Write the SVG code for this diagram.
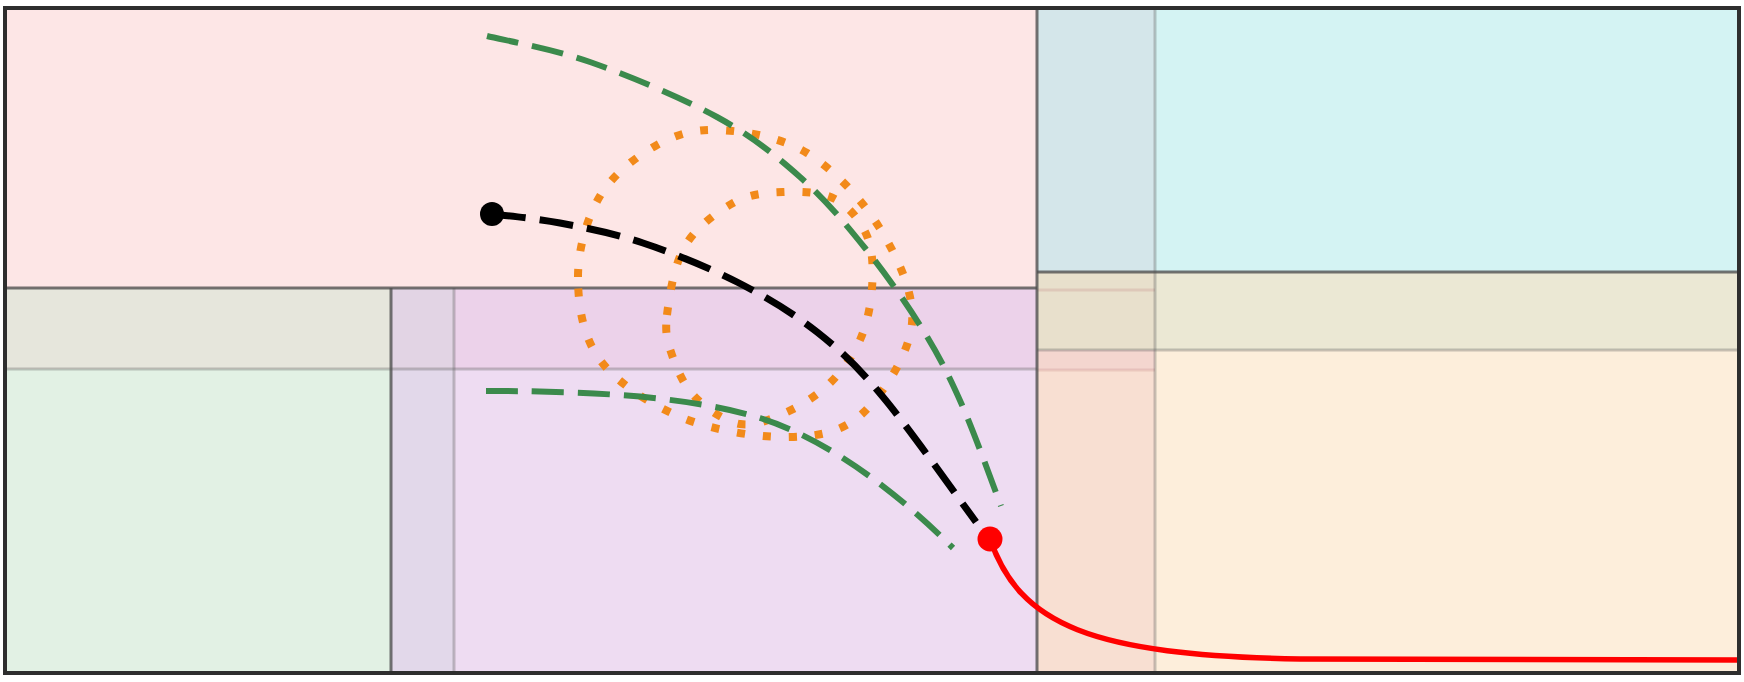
<svg xmlns="http://www.w3.org/2000/svg" width="1744" height="682" viewBox="0 0 1744 682">
  <style>
    .dark { stroke: #505050; stroke-opacity: 0.8; stroke-width: 3; fill: none; }
    .light { stroke: #606060; stroke-opacity: 0.35; stroke-width: 3; fill: none; }
    .faint { stroke: #c08080; stroke-opacity: 0.25; stroke-width: 3; fill: none; }
    .green { stroke: #3b8a4c; stroke-width: 6; fill: none; stroke-dasharray: 32 14; }
    .black { stroke: #000; stroke-width: 7; fill: none; stroke-dasharray: 34 14; }
    .orange { stroke: #f28a1a; stroke-width: 8; fill: none; stroke-dasharray: 8 18; }
  </style>
  <rect x="0" y="0" width="1744" height="682" fill="#ffffff"/>
  <g id="area-top-left">
    <rect x="5" y="8" width="1032" height="280" fill="#fde6e6"/>
  </g>
  <g id="area-left-band">
    <rect x="5" y="288" width="386" height="81" fill="#e6e6dc"/>
    <rect x="391" y="288" width="63" height="81" fill="#e2d4e4"/>
    <rect x="454" y="288" width="583" height="81" fill="#ecd2ea"/>
  </g>
  <g id="area-bottom-left">
    <rect x="5" y="369" width="386" height="304" fill="#e2f1e4"/>
  </g>
  <g id="area-bottom-middle">
    <rect x="391" y="369" width="63" height="304" fill="#e2d8ea"/>
    <rect x="454" y="369" width="583" height="304" fill="#eedcf2"/>
  </g>
  <g id="area-strip">
    <rect x="1037" y="8" width="118" height="264" fill="#d4e6ea"/>
    <rect x="1037" y="272" width="118" height="78" fill="#e8e0cc"/>
    <rect x="1037" y="350" width="118" height="323" fill="#f8dfd2"/>
    <rect x="1037" y="350" width="118" height="20" fill="#f4d6cf"/>
  </g>
  <g id="area-top-right">
    <rect x="1155" y="8" width="584" height="264" fill="#d4f3f3"/>
  </g>
  <g id="area-right-band">
    <rect x="1155" y="272" width="584" height="78" fill="#ebe8d4"/>
  </g>
  <g id="area-bottom-right">
    <rect x="1155" y="350" width="584" height="323" fill="#fdeedb"/>
  </g>
  <g id="grid-lines">
    <line class="light" x1="5" y1="369" x2="1037" y2="369"/>
    <line class="faint" x1="1037" y1="290" x2="1155" y2="290"/>
    <line class="faint" x1="1037" y1="370" x2="1155" y2="370"/>
    <line class="light" x1="1037" y1="350" x2="1739" y2="350"/>
    <line class="light" x1="454" y1="288" x2="454" y2="673"/>
    <line class="light" x1="1155" y1="8" x2="1155" y2="673"/>
    <line class="dark" x1="5" y1="288" x2="1037" y2="288"/>
    <line class="dark" x1="391" y1="288" x2="391" y2="673"/>
    <line class="dark" x1="1037" y1="8" x2="1037" y2="673"/>
    <line class="dark" x1="1037" y1="272" x2="1739" y2="272"/>
  </g>
  <g id="connectors">
    <path class="orange" d="M578,277 C578,249.7 586.8,218 600,196 C613.2,174 637,156 657,145 C677,134 695,128.7 720,130 C745,131.3 780.5,136.8 807,153 C833.5,169.2 861.5,198.7 879,227 C896.5,255.3 914.7,292 912,323 C909.3,354 883.3,394 863,413 C842.7,432 820,436.2 790,437 C760,437.8 714.7,430.8 683,418 C651.3,405.2 617.5,383.5 600,360 C582.5,336.5 578,304.3 578,277 Z"/>
    <path class="orange" d="M667,315 C669.2,296.8 674,264.7 685,246 C696,227.3 716.7,212 733,203 C749.3,194 766,192.7 783,192 C800,191.3 821,191.7 835,199 C849,206.3 860.8,221.2 867,236 C873.2,250.8 873.2,270.7 872,288 C870.8,305.3 867,324.2 860,340 C853,355.8 842.2,371 830,383 C817.8,395 802,405.2 787,412 C772,418.8 755.3,426.5 740,424 C724.7,421.5 706.3,408.5 695,397 C683.7,385.5 676.7,368.7 672,355 C667.3,341.3 664.8,333.2 667,315 Z"/>
    <path class="green" d="M487,36 C504.2,40.3 551.7,48.5 590,62 C628.3,75.5 682,97.8 717,117 C752,136.2 775.3,155.2 800,177 C824.7,198.8 844.5,222.5 865,248 C885.5,273.5 906.8,303.8 923,330 C939.2,356.2 949,375.7 962,405 C975,434.3 994.5,489.2 1001,506"/>
    <path class="green" d="M486,391 C560,391 680,393 760,418 C830,440 900,495 953,548"/>
    <path class="black" d="M492,214 C503.3,215.5 534.8,218.2 560,223 C585.2,227.8 613.5,233.2 643,243 C672.5,252.8 708,267.2 737,282 C766,296.8 792.7,312.8 817,332 C841.3,351.2 856.5,365.3 883,397 C909.5,428.7 960.5,501.2 976,522"/>
    <path d="M990,539 C1020,625 1090,655 1300,659 L1739,660" fill="none" stroke="#ff0000" stroke-width="5.5"/>
    <circle cx="492" cy="214" r="12" fill="#000"/>
    <circle cx="990" cy="539" r="12.5" fill="#ff0000"/>
  </g>
  <rect x="5" y="8" width="1734" height="665" fill="none" stroke="#2e2e2e" stroke-width="4"/>
</svg>
